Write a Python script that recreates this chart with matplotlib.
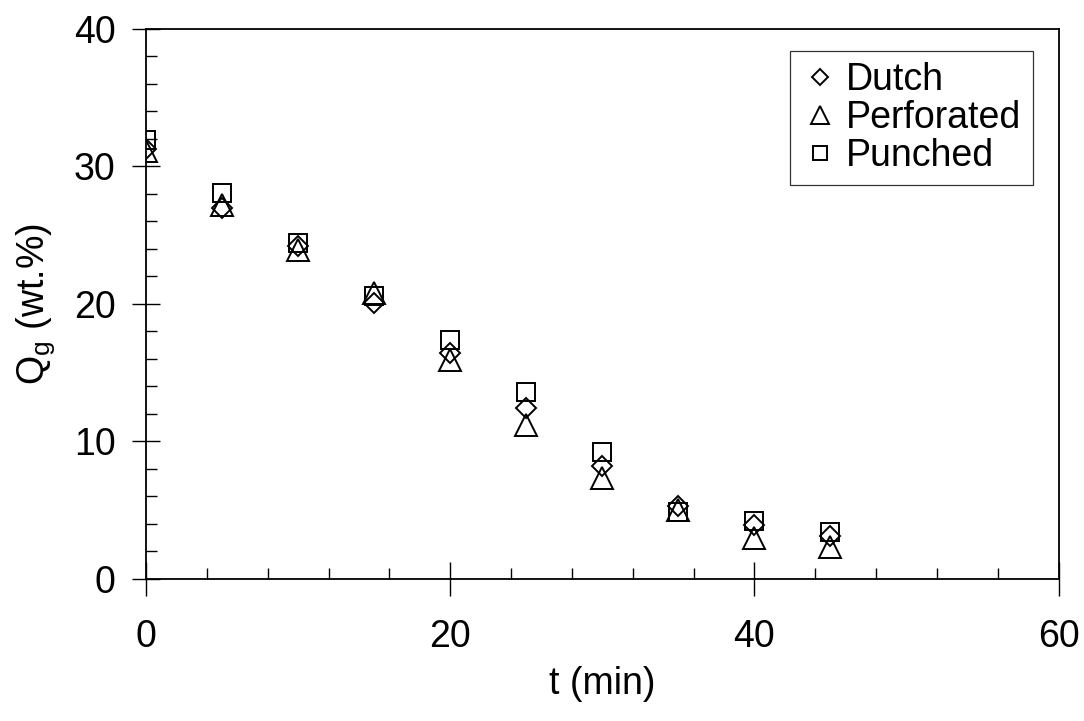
import matplotlib
matplotlib.use("Agg")
import matplotlib.pyplot as plt
from matplotlib.ticker import MultipleLocator

plt.rcParams['font.family'] = ['Liberation Sans', 'DejaVu Sans']
plt.rcParams['mathtext.fontset'] = 'custom'
plt.rcParams['mathtext.rm'] = 'Liberation Sans'
plt.rcParams['mathtext.default'] = 'regular'

# Drying time (min)
t = [0, 5, 10, 15, 20, 25, 30, 35, 40, 45]

# Residual moisture Qg (wt.%) per tray type
dutch = [31.3, 27.0, 24.2, 20.1, 16.4, 12.4, 8.2, 5.3, 3.9, 3.1]
perforated = [31.1, 27.2, 23.9, 20.8, 15.9, 11.2, 7.35, 5.0, 3.0, 2.3]
punched = [31.9, 28.1, 24.4, 20.6, 17.4, 13.6, 9.2, 4.9, 4.2, 3.4]

series_names = ["Dutch", "Perforated", "Punched"]

fig = plt.figure(figsize=(10.84, 7.21), dpi=100)
ax = fig.add_axes([0.1347, 0.197, 0.8418, 0.7629])

mew = 1.4
ax.plot(t, dutch, linestyle='none', marker='D', markersize=10,
        markerfacecolor='none', markeredgecolor='black', markeredgewidth=mew,
        label=series_names[0])
ax.plot(t, perforated, linestyle='none', marker='^', markersize=15.5,
        markerfacecolor='none', markeredgecolor='black', markeredgewidth=mew,
        label=series_names[1])
ax.plot(t, punched, linestyle='none', marker='s', markersize=13,
        markerfacecolor='none', markeredgecolor='black', markeredgewidth=mew,
        label=series_names[2])

ax.set_xlim(0, 60)
ax.set_ylim(0, 40)
ax.xaxis.set_major_locator(MultipleLocator(20))
ax.xaxis.set_minor_locator(MultipleLocator(4))
ax.yaxis.set_major_locator(MultipleLocator(10))
ax.yaxis.set_minor_locator(MultipleLocator(2))

for sp in ax.spines.values():
    sp.set_linewidth(1.3)
    sp.set_color('black')

ax.tick_params(axis='x', which='major', direction='inout', length=24, width=1.0,
               labelsize=27, pad=17)
ax.tick_params(axis='y', which='major', direction='inout', length=20, width=1.0,
               labelsize=27, pad=12)
ax.tick_params(which='minor', direction='in', length=8, width=1.0)

ax.set_xlabel('t (min)', fontsize=27, labelpad=8)
ax.set_ylabel(r'Q$_{g}$ (wt.%)', fontsize=27, labelpad=12)

leg = ax.legend(loc='upper right', bbox_to_anchor=(0.9715, 0.96), borderaxespad=0,
                fontsize=27, frameon=True, fancybox=False, markerscale=0.8,
                handlelength=1.0, handletextpad=0.2, labelspacing=0.05,
                borderpad=0.3)
leg.get_frame().set_edgecolor('black')
leg.get_frame().set_linewidth(0.9)

fig.savefig('out.png', dpi=100)
